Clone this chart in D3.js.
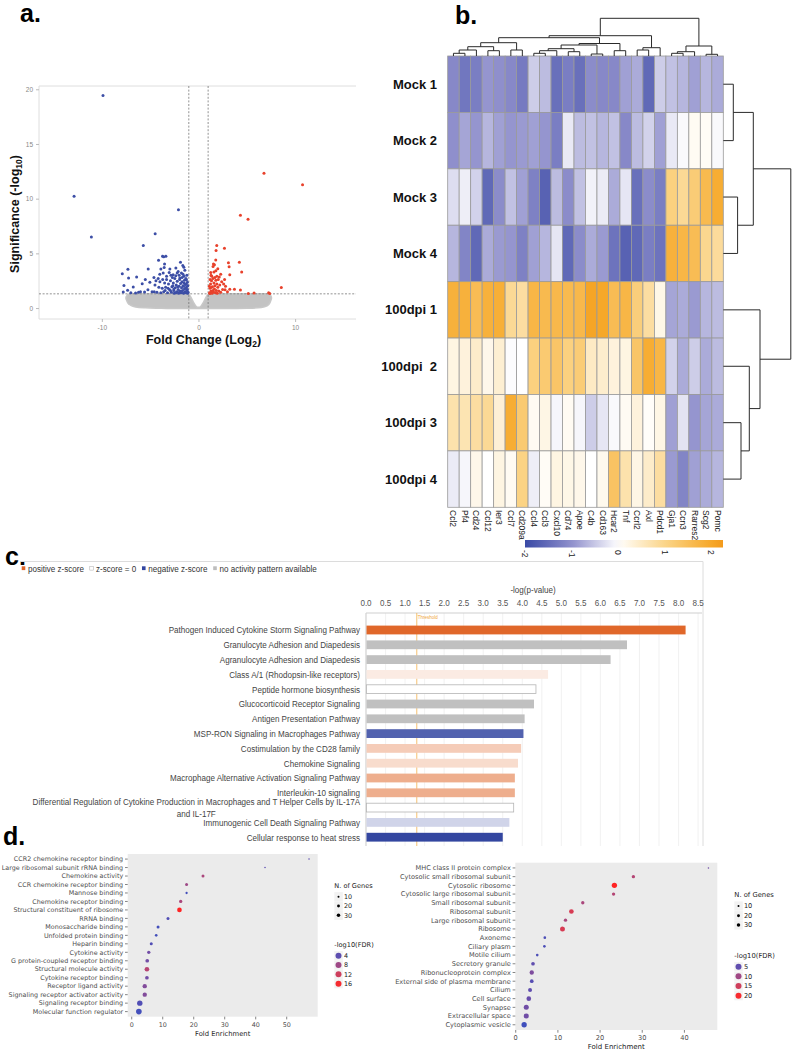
<!DOCTYPE html>
<html><head><meta charset="utf-8">
<script src="https://cdn.jsdelivr.net/npm/d3@7"></script>
<style>body{margin:0;background:#fff;} svg{display:block;}</style>
</head><body>
<svg id="fig" width="793" height="1050"></svg>
<script>
// ================= DATA =================
// Panel a: volcano plot
const volcanoBlue = [
[-9.88,19.43],[-12.87,10.21],[-11.08,6.49],[-2.07,8.99],[-4.48,6.80],[-5.71,5.73],[-3.72,4.73],[-3.37,4.73],[-4.13,4.36],[-1.86,4.18],[-1.62,3.90],[-1.51,3.72],[-5.20,3.57],[-7.30,3.54],[-3.89,3.57],[-2.96,3.57],[-3.51,4.02],[-7.88,3.14],[-6.40,2.84],[-7.23,2.74],[-4.61,2.80],[-5.82,2.23],[-7.71,2.07],[-6.75,1.92],[-7.33,1.62],[-7.78,1.46],[-6.51,1.37],[-5.03,2.35],[-5.23,1.68],[-4.58,1.49],[-5.58,1.46],[-4.17,2.71],[-3.99,2.41],[-3.65,3.20],[-3.30,2.90],[-3.03,3.26],[-2.62,3.05],[-2.34,3.66],[-2.10,3.35],[-1.76,3.20],[-1.41,3.45],[-1.93,2.74],[-1.51,2.90],[-1.24,2.59],
[-3.6,1.5],[-3.4,1.9],[-3.2,1.4],[-3.1,2.2],[-3.0,1.7],[-2.9,2.5],[-2.8,1.45],[-2.75,1.95],[-2.6,2.3],[-2.55,1.6],[-2.5,1.35],[-2.45,2.7],[-2.4,1.85],[-2.3,2.1],[-2.25,1.5],[-2.2,2.45],[-2.1,1.7],[-2.05,1.35],[-2.0,2.0],[-1.95,2.6],[-1.9,1.55],[-1.85,2.25],[-1.8,1.4],[-1.75,1.85],[-1.7,2.4],[-1.65,1.6],[-1.6,2.05],[-1.55,1.35],[-1.5,2.3],[-1.45,1.75],[-1.4,1.5],[-1.35,2.15],[-1.3,1.4],[-1.25,1.9],[-1.2,1.6],[-1.15,2.35],[-1.12,1.35],
[-3.3,2.6],[-3.5,2.3],[-3.75,1.8],[-3.9,1.4],[-4.1,1.9],[-4.3,1.45],[-2.7,2.8],[-2.35,2.95],[-2.0,3.0],[-1.7,2.8],[-1.3,2.7],[-1.6,3.1],[-2.2,3.2],[-2.85,3.0],[-1.2,3.0],[-1.45,2.55],[-1.95,1.5],[-2.15,1.95],[-2.65,2.05],[-2.9,1.6],[-3.15,1.8],[-3.45,1.6],[-1.35,1.8],[-1.55,2.0],[-1.75,1.5],[-2.35,1.4],[-2.55,1.75],[-1.25,2.2],[-1.15,1.7],[-1.08,1.45],[-1.1,2.05],
[-6.0,1.5],[-5.5,2.6],[-4.8,1.5],[-4.5,2.1],[-6.2,1.45],[-7.0,1.4],[-4.0,3.1],[-4.4,2.5],[-3.7,2.6],[-3.55,3.7],[-3.6,4.7]
];
const volcanoRed = [
[6.78,12.32],[10.77,11.28],[4.34,8.48],[5.13,8.11],[1.89,5.73],[2.69,5.46],[1.82,5.27],[1.79,4.39],[1.55,4.02],[1.51,3.81],[3.10,4.15],[3.17,3.78],[4.23,4.18],[4.47,3.29],[3.24,3.05],[8.57,1.89],[7.26,1.40],[7.37,1.33],[5.75,1.37],[5.16,1.33],[4.34,1.65],[3.72,1.71],[3.24,1.71],[2.75,1.68],[1.27,3.26],[1.38,2.90],
[1.15,1.4],[1.2,1.8],[1.25,2.2],[1.3,1.55],[1.35,2.5],[1.4,1.35],[1.45,1.95],[1.5,2.7],[1.55,1.5],[1.6,2.3],[1.65,1.75],[1.7,2.05],[1.75,1.4],[1.8,2.55],[1.85,1.6],[1.9,2.2],[1.95,1.35],[2.0,1.9],[2.05,2.6],[2.1,1.55],[2.2,2.1],[2.3,1.45],[2.4,2.4],[2.5,1.7],[1.2,2.6],[1.35,1.9],[1.5,1.6],[1.7,2.8],[1.9,2.9],[2.15,2.85],[2.6,2.2],[2.8,2.0],[3.0,1.5],[1.3,3.0],[1.6,3.3],[1.8,3.4],[2.0,3.6],[1.65,3.95],[2.3,3.1],[1.12,2.0],[1.18,1.33],[1.45,1.45],[2.7,2.6]
];
// envelope of the dense grey (non-significant) cloud
const cloudX      = [-7.5,-7.3,-7.0,-6.5,-5.5,-4,-2,-1.1,-0.9,-0.7,-0.5,-0.3,-0.1,0.1,0.3,0.5,0.7,0.9,1.1,3,5,6.5,7.1,7.4,7.55];
const cloudTop    = [1.0,1.25,1.3,1.3,1.3,1.3,1.3,1.3,1.15,0.85,0.5,0.22,0.08,0.08,0.22,0.5,0.85,1.15,1.3,1.3,1.3,1.3,1.3,1.25,1.0];
const cloudBottom = [0.85,0.45,0.25,0.1,0.02,-0.02,-0.05,-0.05,-0.05,-0.05,-0.05,-0.05,-0.05,-0.05,-0.05,-0.05,-0.05,-0.05,-0.05,-0.05,-0.02,0.05,0.2,0.5,0.85];
const volcanoXTicks = [-10, 0, 10];
const volcanoYTicks = [0, 5, 10, 15, 20];

// Panel b: heatmap (z-scores)
const heatRows = ["Mock 1","Mock 2","Mock 3","Mock 4","100dpi 1","100dpi  2","100dpi 3","100dpi 4"];
const heatCols = ["Ccl2","Pf4","Cd24","Ccl12","Ier3","Ccl7","Cd209a","Ccl4","Ccl3","Cxcl10","Cd74","Apoe","C4b","Cd163","Hcar2","Tnf","Ccrl2","Axl","Pdcd1","Gja1","Ccn3","Rarres2","Scg2","Pomc"];
const heatMock1 = [-1.1,-1.35,-1.25,-0.95,-1.0,-1.1,-1.3,-0.45,-0.6,-1.45,-1.25,-1.45,-1.05,-1.1,-1.1,-0.85,-0.75,-1.55,-0.45,-0.55,-0.65,-0.85,-0.65,-0.75];
const heatMock2 = [-1.0,-0.8,-0.95,-0.65,-0.85,-0.95,-0.9,-0.85,-0.95,-1.25,-0.2,-0.6,-0.55,-0.65,-0.55,-1.1,-0.6,-0.4,-0.85,-0.2,-0.05,0.1,0.08,-0.05];
const heatMock3 = [-0.3,-0.15,-0.4,-1.55,-1.05,-0.55,-0.85,-1.2,-1.65,-0.6,-1.05,-0.55,-0.12,-0.18,-0.75,-0.22,-1.45,-1.05,-1.25,1.1,0.9,1.2,1.6,1.9];
const heatMock4 = [-0.65,-1.15,-1.55,-0.75,-0.9,-0.95,-1.2,-0.85,-0.65,-0.22,-1.55,-1.05,-0.75,-0.9,-1.4,-1.65,-1.55,-1.25,-1.4,1.8,1.7,1.55,0.95,0.85];
const heatDpi1  = [1.8,1.8,1.55,1.8,1.85,0.9,0.8,1.7,1.6,1.65,1.6,1.65,2.05,2.0,1.55,1.7,1.15,0.8,0.2,-0.8,-0.75,-0.9,-0.65,-0.6];
const heatDpi2  = [0.25,0.3,0.45,0.18,0.38,-0.03,0.0,1.1,1.25,1.35,1.1,1.2,0.5,0.42,0.3,0.25,1.35,1.9,1.7,-0.4,-0.75,-0.45,-0.75,-0.6];
const heatDpi3  = [0.7,0.65,0.8,0.9,0.35,1.9,1.25,0.1,0.22,-0.08,0.1,-0.08,-0.45,-0.22,-0.05,0.1,0.3,0.05,0.22,-0.85,-0.25,-0.95,-0.8,-0.75];
const heatDpi4  = [-0.18,-0.08,0.18,0.0,0.25,0.1,1.05,-0.15,0.08,0.25,0.2,0.18,0.0,0.15,1.4,0.7,0.22,0.45,0.8,-0.9,-1.15,-0.85,-0.75,-0.65];
const heatValues = [heatMock1, heatMock2, heatMock3, heatMock4, heatDpi1, heatDpi2, heatDpi3, heatDpi4];
const colorbarTicks = [-2, -1, 0, 1, 2];
// hierarchical clustering trees (leaf = index, h = merge height)
const colTree = {h:37.7, c:[
  {h:20.3, c:[
    {h:18.3, c:[
      {h:13.3, c:[ {h:9.3, c:[ {h:6, c:[ {h:2.7, c:[0,1]}, 2]}, {h:5.3, c:[3,4]} ]}, {h:6, c:[5,6]} ]},
      {h:12.5, c:[ {h:11, c:[ {h:7.3, c:[ {h:5.3, c:[ {h:2.7, c:[7,8]}, 9]}, {h:4.3, c:[10,11]} ]}, {h:2, c:[12,13]} ]}, {h:5.3, c:[14,15]} ]}
    ]},
    {h:8.3, c:[ {h:6, c:[16,17]}, 18 ]}
  ]},
  {h:10, c:[ {h:4.3, c:[ {h:2.7, c:[19,20]}, 21]}, {h:1.7, c:[22,23]} ]}
]};
const rowTree = {h:67.5, c:[ {h:30, c:[ {h:10, c:[0,1]}, {h:14.3, c:[2,3]} ]}, {h:36.7, c:[4, {h:26, c:[5, {h:17.7, c:[6,7]} ]} ]} ]};

// Panel c: IPA canonical pathways
const pathways = ["Pathogen Induced Cytokine Storm Signaling Pathway","Granulocyte Adhesion and Diapedesis","Agranulocyte Adhesion and Diapedesis","Class A/1 (Rhodopsin-like receptors)","Peptide hormone biosynthesis","Glucocorticoid Receptor Signaling","Antigen Presentation Pathway","MSP-RON Signaling in Macrophages Pathway","Costimulation by the CD28 family","Chemokine Signaling","Macrophage Alternative Activation Signaling Pathway","Interleukin-10 signaling","Differential Regulation of Cytokine Production in Macrophages and T Helper Cells by IL-17A and IL-17F","Immunogenic Cell Death Signaling Pathway","Cellular response to heat stress"];
const pathwayLogP = [8.18,6.68,6.26,4.66,4.35,4.30,4.06,4.03,3.97,3.89,3.81,3.81,3.78,3.67,3.50];
const pathwayZ = [3.0,null,null,0.4,0,null,null,-2.2,1.0,0.7,1.6,1.6,0,-0.6,-2.6];
const pathwayTicks = [0,0.5,1,1.5,2,2.5,3,3.5,4,4.5,5,5.5,6,6.5,7,7.5,8,8.5];
const pathwayThreshold = 1.3;
const zLegend = ["positive z-score","z-score = 0","negative z-score","no activity pattern available"];

// Panel d: GO enrichment (molecular function, cellular component)
const mfTerms = ["CCR2 chemokine receptor binding","Large ribosomal subunit rRNA binding","Chemokine activity","CCR chemokine receptor binding","Mannose binding","Chemokine receptor binding","Structural constituent of ribosome","RRNA binding","Monosaccharide binding","Unfolded protein binding","Heparin binding","Cytokine activity","G protein-coupled receptor binding","Structural molecule activity","Cytokine receptor binding","Receptor ligand activity","Signaling receptor activator activity","Signaling receptor binding","Molecular function regulator"];
const mfFold  = [57.2,43.0,23.0,17.7,17.7,15.8,15.4,11.7,8.5,7.9,6.3,5.5,5.0,4.9,4.9,4.2,4.2,2.6,2.3];
const mfGenes = [6,6,22,22,13,27,53,22,22,17,22,27,33,53,33,46,46,70,78];
const mfFDR   = [4,4,9,8,3,9,17,3.5,3,3,3.5,5,5,10,5,6,6,3.5,3];
const mfLegendGenes = [10,20,30];
const mfLegendFDR = [4,8,12,16];
const mfXTicks = [0,10,20,30,40,50];

const ccTerms = ["MHC class II protein complex","Cytosolic small ribosomal subunit","Cytosolic ribosome","Cytosolic large ribosomal subunit","Small ribosomal subunit","Ribosomal subunit","Large ribosomal subunit","Ribosome","Axoneme","Ciliary plasm","Motile cilium","Secretory granule","Ribonucleoprotein complex","External side of plasma membrane","Cilium","Cell surface","Synapse","Extracellular space","Cytoplasmic vesicle"];
const ccFold  = [45.7,27.9,23.4,23.2,15.9,13.2,11.8,11.1,6.9,6.8,5.1,4.1,3.8,3.8,3.4,3.1,2.5,2.5,2.0];
const ccGenes = [6,27,69,27,27,53,27,61,17,17,17,33,46,33,39,53,61,61,69];
const ccFDR   = [6,12,21,12,11,16,11,16,4,4,4,5,7,4.5,5,5.5,6,6,3.5];
const ccLegendGenes = [10,20,30];
const ccLegendFDR = [5,10,15,20];
const ccXTicks = [0,10,20,30,40];

// ================= DRAWING =================
const svg = d3.select("#fig");
const SANS = "'Liberation Sans', Arial, Helvetica, sans-serif";
const DV = "'DejaVu Sans', sans-serif";

// panel letters
[["a.",20,22],["b.",455,24],["c.",5,565],["d.",3,845]].forEach(([t,x,y]) =>
  svg.append("text").attr("x",x).attr("y",y).text(t)
    .attr("font-family",SANS).attr("font-weight","bold").attr("font-size",25).attr("fill","#000"));

// ---------- Panel a ----------
(function(){
  const g = svg.append("g");
  const L=39, R=356, T=86, B=319;
  const x = d3.scaleLinear().domain([-16.5,16.3]).range([L,R]);
  const y = d3.scaleLinear().domain([-1,20.3]).range([B,T]);
  g.append("path").attr("d",`M${R},${T}H${L}V${B}H${R}`).attr("fill","none").attr("stroke","#dedede").attr("stroke-width",1);
  const ya = g.append("g").attr("transform",`translate(${L},0)`).call(d3.axisLeft(y).tickValues(volcanoYTicks).tickSize(3).tickFormat(d3.format("d")));
  const xa = g.append("g").attr("transform",`translate(0,${B})`).call(d3.axisBottom(x).tickValues(volcanoXTicks).tickSize(3).tickFormat(d=>d<0?"-"+Math.abs(d):d));
  [ya,xa].forEach(a=>{a.select(".domain").remove(); a.selectAll("line").attr("stroke","#bbb");
    a.selectAll("text").attr("font-family",SANS).attr("font-size",6.5).attr("fill","#888");});
  // grey cloud
  const cloud = cloudX.map((v,i)=>({x:v,t:cloudTop[i],b:cloudBottom[i]}));
  g.append("path").datum(cloud).attr("d", d3.area().x(d=>x(d.x)).y0(d=>y(d.b)).y1(d=>y(d.t)).curve(d3.curveMonotoneX))
    .attr("fill","#c3c3c3").attr("stroke","#c8c8c8").attr("stroke-width",1.5);
  // dashed thresholds
  [-1,1].forEach(v=> g.append("line").attr("x1",x(v)).attr("x2",x(v)).attr("y1",T).attr("y2",B)
     .attr("stroke","#777").attr("stroke-dasharray","2,1.6").attr("stroke-width",0.8));
  g.append("line").attr("x1",L).attr("x2",R).attr("y1",y(1.3)).attr("y2",y(1.3))
     .attr("stroke","#777").attr("stroke-dasharray","2,1.6").attr("stroke-width",0.8);
  g.selectAll(".b").data(volcanoBlue).join("circle").attr("cx",d=>x(d[0])).attr("cy",d=>y(d[1])).attr("r",1.5).attr("fill","#3c4ea6");
  g.selectAll(".r").data(volcanoRed).join("circle").attr("cx",d=>x(d[0])).attr("cy",d=>y(d[1])).attr("r",1.5).attr("fill","#e8412b");
  // titles
  const xt = g.append("text").attr("x",(L+R)/2+6).attr("y",344).attr("text-anchor","middle")
    .attr("font-family",SANS).attr("font-weight","bold").attr("font-size",12.5).attr("fill","#111");
  xt.append("tspan").text("Fold Change (Log");
  xt.append("tspan").text("2").attr("font-size",8.5).attr("dy",3);
  xt.append("tspan").text(")").attr("dy",-3);
  const yt = g.append("text").attr("transform",`translate(19,214) rotate(-90)`).attr("text-anchor","middle")
    .attr("font-family",SANS).attr("font-weight","bold").attr("font-size",12.5).attr("fill","#111");
  yt.append("tspan").text("Significance (-log");
  yt.append("tspan").text("10").attr("font-size",8.5).attr("dy",3);
  yt.append("tspan").text(")").attr("dy",-3);
})();

// ---------- Panel b ----------
(function(){
  const g = svg.append("g");
  const x = d3.scaleBand().domain(heatCols).range([447.7,723.3]);
  const y = d3.scaleBand().domain(heatRows).range([56,507.3]);
  const color = d3.scaleLinear().domain([-2,-1,0,1,2,2.25])
    .range(["#3a4aa6","#8f8fcc","#ffffff","#fbd589","#f6a829","#f39a1b"]);
  heatValues.forEach((row,ri)=>{
    g.selectAll(null).data(row).join("rect")
      .attr("x",(d,ci)=>x(heatCols[ci])).attr("y",y(heatRows[ri]))
      .attr("width",x.bandwidth()).attr("height",y.bandwidth())
      .attr("fill",d=>color(d)).attr("stroke","#9a9a9a").attr("stroke-width",0.8);
  });
  g.selectAll(".rl").data(heatRows).join("text").attr("x",437).attr("y",d=>y(d)+y.bandwidth()/2).attr("dy","0.35em")
    .attr("text-anchor","end").attr("font-family",SANS).attr("font-weight","bold").attr("font-size",13).attr("fill","#111")
    .attr("xml:space","preserve").style("white-space","pre").text(d=>d);
  g.selectAll(".cl").data(heatCols).join("text")
    .attr("transform",d=>`translate(${x(d)+x.bandwidth()/2},510) rotate(90)`).attr("dy","0.35em")
    .attr("font-family",SANS).attr("font-size",8.5).attr("fill","#222").text(d=>d);
  // dendrograms
  function tree(node, leafPos, hPos, orient){
    if (typeof node === "number") return {p:leafPos(node), h:0};
    const kids = node.c.map(k=>tree(k,leafPos,hPos,orient));
    const p = d3.mean(kids,k=>k.p);
    const hp = hPos(node.h);
    const path = d3.path();
    if (orient==="top"){
      kids.forEach(k=>{path.moveTo(k.p,hPos(k.h)); path.lineTo(k.p,hp);});
      path.moveTo(kids[0].p,hp); path.lineTo(kids[kids.length-1].p,hp);
    } else {
      kids.forEach(k=>{path.moveTo(hPos(k.h),k.p); path.lineTo(hp,k.p);});
      path.moveTo(hp,kids[0].p); path.lineTo(hp,kids[kids.length-1].p);
    }
    g.append("path").attr("d",path.toString()).attr("fill","none").attr("stroke","#2a2a2a").attr("stroke-width",1);
    return {p, h:node.h};
  }
  tree(colTree, i=>x(heatCols[i])+x.bandwidth()/2, d3.scaleLinear().domain([0,37.7]).range([56,18.3]), "top");
  tree(rowTree, i=>y(heatRows[i])+y.bandwidth()/2, d3.scaleLinear().domain([0,67.5]).range([723.3,790.8]), "right");
  // colour bar
  const cb = d3.scaleLinear().domain([-2,2.25]).range([525,723]);
  const grad = svg.append("defs").append("linearGradient").attr("id","hg");
  d3.range(0,1.0001,0.05).forEach(t=>grad.append("stop").attr("offset",t).attr("stop-color",color(-2+4.25*t)));
  g.append("rect").attr("x",525).attr("y",540).attr("width",198).attr("height",7.5).attr("fill","url(#hg)");
  g.selectAll(".cbt").data(colorbarTicks).join("text")
    .attr("transform",d=>`translate(${cb(d)},550) rotate(90)`).attr("dy","0.35em")
    .attr("font-family",SANS).attr("font-size",8.5).attr("fill","#222").text(d=>d);
})();

// ---------- Panel c ----------
function cText(g, x, y, s, anchor, size, fill){
  const t = g.append("g").attr("transform",`translate(${x},${y}) scale(0.85,1)`).append("text")
    .attr("text-anchor",anchor).attr("font-family",SANS).attr("font-size",size).attr("fill",fill).text(s);
  return t;
}
(function(){
  const g = svg.append("g");
  const x = d3.scaleLinear().domain([0,8.6]).range([366,702]);
  const yc = d3.scalePoint().domain(pathways).range([630,837.2]);
  const TOP=613, BOT=846, bh=8.8;
  // outer frame
  g.append("path").attr("d",`M20,561.5H703V${BOT}`).attr("fill","none").attr("stroke","#dcdcdc");
  // legend
  const legColors = [["#e0672a",null],["#ffffff","#aaa"],["#3346a0",null],["#bdbdbd",null]];
  let lx = 21.7;
  zLegend.forEach((s,i)=>{
    g.append("rect").attr("x",lx).attr("y",566.3).attr("width",3.6).attr("height",3.8)
      .attr("fill",legColors[i][0]).attr("stroke",legColors[i][1]||"none").attr("stroke-width",0.5);
    const t = cText(g, lx+6.3, 571.6, s, "start", 9.5, "#333");
    lx += 6.3 + t.node().getComputedTextLength()*0.85 + 5.8;
  });
  // gridlines & frame
  g.selectAll(".gl").data(pathwayTicks).join("line").attr("x1",d=>x(d)).attr("x2",d=>x(d)).attr("y1",TOP).attr("y2",BOT)
    .attr("stroke","#ededed").attr("stroke-width",0.8);
  g.append("path").attr("d",`M${x(0)},${BOT}V${TOP}H${x(8.6)}`).attr("fill","none").attr("stroke","#cfcfcf");
  pathwayTicks.forEach(t=>cText(g, x(t), 606, d3.format(".1f")(t), "middle", 9.5, "#555"));
  cText(g, 533, 593, "-log(p-value)", "middle", 9.5, "#444");
  // threshold
  g.append("line").attr("x1",x(pathwayThreshold)).attr("x2",x(pathwayThreshold)).attr("y1",TOP).attr("y2",BOT)
    .attr("stroke","#f3b04a").attr("stroke-width",0.8);
  g.append("text").attr("x",x(pathwayThreshold)+1).attr("y",619).text("Threshold")
    .attr("font-family",SANS).attr("font-size",4.5).attr("fill","#f0a53a");
  // bars
  const pos = d3.scaleLinear().domain([0,3]).range(["#ffffff","#e0672a"]);
  const neg = d3.scaleLinear().domain([0,-2.6]).range(["#ffffff","#3346a0"]);
  const fillZ = z => z===null ? "#c0c0c0" : (z>0 ? pos(z) : (z<0 ? neg(z) : "#ffffff"));
  g.selectAll(".bar").data(pathways).join("rect")
    .attr("x",x(0)+0.5).attr("y",d=>yc(d)-bh/2).attr("height",bh)
    .attr("width",(d,i)=>x(pathwayLogP[i])-x(0)-0.5)
    .attr("fill",(d,i)=>fillZ(pathwayZ[i]))
    .attr("stroke",(d,i)=>pathwayZ[i]===0?"#b5b5b5":"none").attr("stroke-width",0.8);
  // labels (wrap long ones, centred block)
  pathways.forEach(p=>{
    const cy = yc(p);
    const t = cText(g, 360, cy+3.3, p, "end", 9.5, "#444");
    const w = t.node().getComputedTextLength();
    if (w > 395){
      const words = p.split(" ");
      let line = [], lines = [];
      t.text("");
      words.forEach(wd=>{
        t.text([...line,wd].join(" "));
        if (t.node().getComputedTextLength() > 395 && line.length){ lines.push(line.join(" ")); line=[wd]; }
        else line.push(wd);
      });
      lines.push(line.join(" "));
      t.text(lines[0]);
      const mw = t.node().getComputedTextLength();
      t.remove();
      lines.forEach((ln,k)=>{
        cText(g, 360 - mw*0.85/2, cy + 3.3 + (k - (lines.length-1)/2)*11.6, ln, "middle", 9.5, "#444");
      });
    }
  });
})();

// ---------- Panel d ----------
function dotPlot(cfg){
  const g = svg.append("g");
  const [L,R] = cfg.xRange, [T,B] = cfg.yRange;
  const x = d3.scaleLinear().domain(cfg.xDomain).range([L,R]);
  const y = d3.scalePoint().domain(cfg.terms).range([T,B]).padding(0.6);
  const r = d3.scaleSqrt().domain([0,100]).range([0,3.2]);
  const col = d3.scaleLinear().domain(cfg.fdrDomain).range(["#2f4fc0","#ff2424"]).interpolate(d3.interpolateLab);
  g.append("rect").attr("x",L).attr("y",T).attr("width",R-L).attr("height",B-T).attr("fill","#ebebeb");
  g.selectAll(".yt").data(cfg.terms).join("line").attr("x1",L-2.7).attr("x2",L).attr("y1",d=>y(d)).attr("y2",d=>y(d)).attr("stroke","#333").attr("stroke-width",0.6);
  g.selectAll(".yl").data(cfg.terms).join("text").attr("x",L-4.5).attr("y",d=>y(d)).attr("dy","0.35em")
    .attr("text-anchor","end").attr("font-family",DV).attr("font-size",cfg.fs).attr("fill","#4d4d4d").text(d=>d);
  g.selectAll(".xt").data(cfg.xTicks).join("line").attr("x1",d=>x(d)).attr("x2",d=>x(d)).attr("y1",B).attr("y2",B+2.7).attr("stroke","#333").attr("stroke-width",0.6);
  g.selectAll(".xl").data(cfg.xTicks).join("text").attr("x",d=>x(d)).attr("y",B+9.8).attr("text-anchor","middle")
    .attr("font-family",DV).attr("font-size",cfg.fs).attr("fill","#4d4d4d").text(d=>d);
  g.append("text").attr("x",(L+R)/2).attr("y",B+19.3).attr("text-anchor","middle").attr("font-family",DV).attr("font-size",cfg.fs+0.4).attr("fill","#222").text("Fold Enrichment");
  g.selectAll(".pt").data(cfg.terms).join("circle").attr("cx",(d,i)=>x(cfg.fold[i])).attr("cy",d=>y(d))
    .attr("r",(d,i)=>r(cfg.genes[i])).attr("fill",(d,i)=>col(cfg.fdr[i]));
  // legends
  const lx = cfg.legX;
  g.append("text").attr("x",lx).attr("y",cfg.sizeTitleY+2.3).attr("font-family",DV).attr("font-size",cfg.fs+0.2).attr("fill","#222").text("N. of Genes");
  cfg.legendGenes.forEach((n,i)=>{
    const yy = cfg.sizeKeysY[i];
    g.append("rect").attr("x",lx).attr("y",yy-4.6).attr("width",8.5).attr("height",9.2).attr("fill","#f2f2f2");
    g.append("circle").attr("cx",lx+4.2).attr("cy",yy).attr("r",r(n)).attr("fill","#000");
    g.append("text").attr("x",lx+9.6).attr("y",yy).attr("dy","0.35em").attr("font-family",DV).attr("font-size",cfg.fs).attr("fill","#222").text(n);
  });
  g.append("text").attr("x",lx).attr("y",cfg.colTitleY+2.3).attr("font-family",DV).attr("font-size",cfg.fs+0.2).attr("fill","#222").text("-log10(FDR)");
  cfg.legendFDR.forEach((v,i)=>{
    const yy = cfg.colKeysY[i];
    g.append("rect").attr("x",lx).attr("y",yy-4.6).attr("width",8.5).attr("height",9.2).attr("fill","#f2f2f2");
    g.append("circle").attr("cx",lx+4.2).attr("cy",yy).attr("r",3).attr("fill",col(v));
    g.append("text").attr("x",lx+9.6).attr("y",yy).attr("dy","0.35em").attr("font-family",DV).attr("font-size",cfg.fs).attr("fill","#222").text(v);
  });
}
dotPlot({terms:mfTerms, fold:mfFold, genes:mfGenes, fdr:mfFDR, xDomain:[-1.3,60], xRange:[127.7,317.7], yRange:[854,1016.7],
  xTicks:mfXTicks, fdrDomain:[2.5,17], fs:6.4, legX:334.3, sizeTitleY:886, sizeKeysY:[896.7,906,915.3],
  colTitleY:944.3, colKeysY:[955.7,965,974.3,983.7], legendGenes:mfLegendGenes, legendFDR:mfLegendFDR});
dotPlot({terms:ccTerms, fold:ccFold, genes:ccGenes, fdr:ccFDR, xDomain:[-0.1,47.8], xRange:[515.3,717.3], yRange:[862.7,1030],
  xTicks:ccXTicks, fdrDomain:[3,21], fs:6.6, legX:734.3, sizeTitleY:894.3, sizeKeysY:[906,915.7,925],
  colTitleY:956, colKeysY:[966.7,976.3,986,995.7], legendGenes:ccLegendGenes, legendFDR:ccLegendFDR});
</script>
</body></html>
